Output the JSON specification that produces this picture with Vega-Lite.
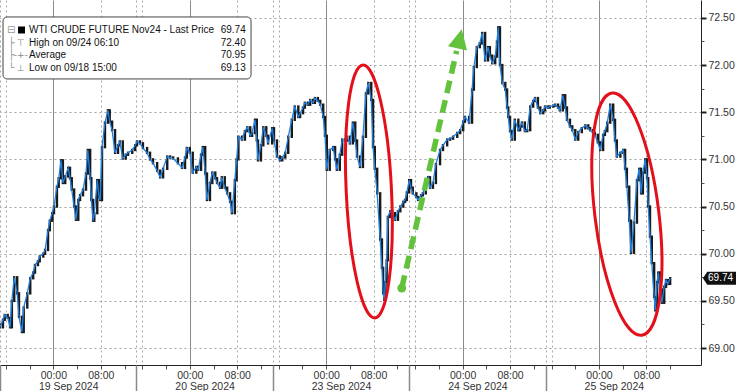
{
  "$schema": "https://vega.github.io/schema/vega-lite/v6.json",
  "width": 701,
  "height": 365,
  "autosize": {"type": "none"},
  "padding": {"left": 0, "top": 0, "right": 35, "bottom": 26},
  "background": "white",
  "config": {"view": {"stroke": null}, "font": "Liberation Sans", "axis": {"labelFont": "Liberation Sans", "labelColor": "#333333", "labelFontSize": 10.5, "title": null}},
  "resolve": {"scale": {"x": "shared", "y": "shared"}, "axis": {"x": "independent", "y": "independent"}},
  "datasets": {
    "px": [
{"t":0,"o":69.25,"c":69.22},{"t":0.5,"o":69.22,"c":69.30},{"t":0.8,"o":69.30,"c":69.35},{"t":1.3,"o":69.35,"c":69.32},{"t":1.7,"o":69.32,"c":69.22},{"t":2.0,"o":69.22,"c":69.50},{"t":2.4,"o":69.50,"c":69.75},{"t":2.9,"o":69.75,"c":69.58},{"t":3.2,"o":69.58,"c":69.33},{"t":3.7,"o":69.33,"c":69.17},{"t":4.0,"o":69.17,"c":69.43},{"t":4.6,"o":69.43,"c":69.58},{"t":5.1,"o":69.58,"c":69.74},{"t":5.6,"o":69.74,"c":69.80},{"t":5.9,"o":69.80,"c":69.88},{"t":6.4,"o":69.88,"c":69.92},{"t":6.7,"o":69.92,"c":69.97},{"t":7.3,"o":69.97,"c":70.00},{"t":7.6,"o":70.00,"c":70.04},{"t":8.1,"o":70.04,"c":70.25},{"t":8.4,"o":70.25,"c":70.35},{"t":8.8,"o":70.35,"c":70.43},{"t":9.1,"o":70.43,"c":70.50},{"t":9.6,"o":70.50,"c":70.71},{"t":9.9,"o":70.71,"c":70.80},{"t":10.3,"o":70.80,"c":70.99},{"t":10.6,"o":70.99,"c":70.75},{"t":11.0,"o":70.75,"c":70.82},{"t":11.5,"o":70.82,"c":70.91},{"t":11.8,"o":70.91,"c":70.80},{"t":12.1,"o":70.80,"c":70.68},{"t":12.5,"o":70.68,"c":70.50},{"t":12.8,"o":70.50,"c":70.36},{"t":13.2,"o":70.36,"c":70.57},{"t":13.5,"o":70.57,"c":70.62},{"t":14.0,"o":70.62,"c":70.68},{"t":14.5,"o":70.68,"c":70.85},{"t":14.8,"o":70.85,"c":71.10},{"t":15.2,"o":71.10,"c":70.80},{"t":15.4,"o":70.80,"c":70.57},{"t":15.7,"o":70.57,"c":70.35},{"t":15.9,"o":70.35,"c":70.43},{"t":16.4,"o":70.43,"c":70.78},{"t":16.7,"o":70.78,"c":70.60},{"t":16.9,"o":70.60,"c":70.57},{"t":17.2,"o":70.57,"c":71.13},{"t":17.7,"o":71.13,"c":71.39},{"t":18.2,"o":71.39,"c":71.52},{"t":18.5,"o":71.52,"c":71.40},{"t":18.9,"o":71.40,"c":71.31},{"t":19.4,"o":71.31,"c":71.07},{"t":19.9,"o":71.07,"c":71.15},{"t":20.2,"o":71.15,"c":71.19},{"t":20.7,"o":71.19,"c":71.01},{"t":21.2,"o":71.01,"c":71.05},{"t":21.6,"o":71.05,"c":71.07},{"t":22.3,"o":71.07,"c":71.10},{"t":22.8,"o":71.10,"c":71.15},{"t":23.1,"o":71.15,"c":71.19},
{"t":23.6,"o":71.19,"c":71.17},{"t":24.1,"o":71.17,"c":71.12},{"t":24.8,"o":71.12,"c":71.07},{"t":25.3,"o":71.07,"c":71.00},{"t":25.8,"o":71.00,"c":70.96},{"t":26.5,"o":70.96,"c":70.88},{"t":27.0,"o":70.88,"c":70.81},{"t":27.5,"o":70.81,"c":70.90},{"t":28.2,"o":70.90,"c":71.03},{"t":28.7,"o":71.03,"c":71.02},{"t":29.2,"o":71.02,"c":71.01},{"t":30.0,"o":71.01,"c":70.96},{"t":30.7,"o":70.96,"c":70.91},{"t":31.2,"o":70.91,"c":71.02},{"t":31.5,"o":71.02,"c":71.12},{"t":32.0,"o":71.12,"c":71.07},{"t":32.5,"o":71.07,"c":70.86},{"t":33.1,"o":70.86,"c":70.92},{"t":33.4,"o":70.92,"c":70.89},{"t":33.9,"o":70.89,"c":71.05},{"t":34.2,"o":71.05,"c":71.13},{"t":34.6,"o":71.13,"c":70.85},{"t":34.9,"o":70.85,"c":70.57},{"t":35.4,"o":70.57,"c":70.75},{"t":35.8,"o":70.75,"c":70.86},{"t":36.3,"o":70.86,"c":70.80},{"t":36.6,"o":70.80,"c":70.75},{"t":37.1,"o":70.75,"c":70.70},{"t":37.4,"o":70.70,"c":70.81},{"t":37.9,"o":70.81,"c":70.70},{"t":38.3,"o":70.70,"c":70.64},{"t":38.8,"o":70.64,"c":70.55},{"t":39.1,"o":70.55,"c":70.43},{"t":39.6,"o":70.43,"c":70.78},{"t":39.9,"o":70.78,"c":71.00},{"t":40.2,"o":71.00,"c":71.24},{"t":40.8,"o":71.24,"c":71.21},{"t":41.3,"o":71.21,"c":71.30},{"t":41.7,"o":71.30,"c":71.34},{"t":42.2,"o":71.34,"c":71.25},{"t":42.5,"o":71.25,"c":71.28},{"t":43.0,"o":71.28,"c":71.42},{"t":43.3,"o":71.42,"c":71.20},{"t":43.5,"o":71.20,"c":70.99},{"t":44.0,"o":70.99,"c":71.15},{"t":44.4,"o":71.15,"c":71.34},{"t":44.9,"o":71.34,"c":71.25},{"t":45.2,"o":71.25,"c":71.17},{"t":45.9,"o":71.17,"c":71.33},{"t":46.2,"o":71.33,"c":71.20},{"t":46.7,"o":71.20,"c":71.03},
{"t":47.2,"o":71.03,"c":70.99},{"t":47.6,"o":70.99,"c":71.02},{"t":48.1,"o":71.02,"c":71.07},{"t":48.6,"o":71.07,"c":71.24},{"t":49.2,"o":71.24,"c":71.42},{"t":49.7,"o":71.42,"c":71.56},{"t":50.3,"o":71.56,"c":71.45},{"t":50.6,"o":71.45,"c":71.49},{"t":51.1,"o":71.49,"c":71.55},{"t":51.4,"o":71.55,"c":71.60},{"t":51.9,"o":71.60,"c":71.58},{"t":52.3,"o":71.58,"c":71.63},{"t":52.8,"o":71.63,"c":71.60},{"t":53.1,"o":71.60,"c":71.65},{"t":53.6,"o":71.65,"c":71.62},{"t":54.0,"o":71.62,"c":71.58},{"t":54.5,"o":71.58,"c":71.45},{"t":54.8,"o":71.45,"c":71.25},{"t":55.1,"o":71.25,"c":70.89},{"t":55.6,"o":70.89,"c":71.10},{"t":56.2,"o":71.10,"c":71.13},{"t":56.5,"o":71.13,"c":71.00},{"t":56.8,"o":71.00,"c":70.89},{"t":57.3,"o":70.89,"c":71.05},{"t":57.7,"o":71.05,"c":71.21},{"t":58.2,"o":71.21,"c":71.20},{"t":58.5,"o":71.20,"c":71.24},{"t":59.0,"o":71.24,"c":71.17},{"t":59.5,"o":71.17,"c":71.39},{"t":59.9,"o":71.39,"c":71.20},{"t":60.2,"o":71.20,"c":71.03},{"t":60.7,"o":71.03,"c":70.92},{"t":61.2,"o":70.92,"c":71.24},{"t":61.7,"o":71.24,"c":71.70},{"t":62.1,"o":71.70,"c":71.81},{"t":62.6,"o":71.81,"c":71.63},{"t":62.9,"o":71.63,"c":71.13},{"t":63.2,"o":71.13,"c":70.90},{"t":63.6,"o":70.90,"c":70.64},{"t":64.1,"o":70.64,"c":70.15},{"t":64.4,"o":70.15,"c":69.85},{"t":64.6,"o":69.85,"c":69.58},{"t":64.8,"o":69.58,"c":69.51},{"t":65.0,"o":69.51,"c":69.70},{"t":65.2,"o":69.70,"c":69.93},{"t":65.4,"o":69.93,"c":70.39},{"t":65.8,"o":70.39,"c":70.45},{"t":66.1,"o":70.45,"c":70.43},{"t":66.6,"o":70.43,"c":70.36},{"t":67.1,"o":70.36,"c":70.45},{"t":67.5,"o":70.45,"c":70.50},{"t":68.0,"o":70.50,"c":70.55},{"t":68.3,"o":70.55,"c":70.57},{"t":68.6,"o":70.57,"c":70.65},{"t":69.0,"o":70.65,"c":70.78},
{"t":69.3,"o":70.78,"c":70.70},{"t":69.6,"o":70.70,"c":70.64},{"t":70.2,"o":70.64,"c":70.60},{"t":70.5,"o":70.60,"c":70.57},{"t":71.0,"o":70.57,"c":70.62},{"t":71.3,"o":70.62,"c":70.64},{"t":71.8,"o":70.64,"c":70.75},{"t":72.2,"o":70.75,"c":70.81},{"t":72.5,"o":70.81,"c":70.70},{"t":73.0,"o":70.70,"c":70.75},{"t":73.5,"o":70.75,"c":70.95},{"t":74.2,"o":70.95,"c":71.10},{"t":74.7,"o":71.10,"c":71.15},{"t":75.4,"o":71.15,"c":71.21},{"t":75.9,"o":71.21,"c":71.22},{"t":76.4,"o":71.22,"c":71.24},{"t":77.1,"o":71.24,"c":71.28},{"t":77.6,"o":71.28,"c":71.31},{"t":78.1,"o":71.31,"c":71.40},{"t":78.4,"o":71.40,"c":71.45},{"t":79.1,"o":71.45,"c":71.39},{"t":79.6,"o":71.39,"c":71.74},{"t":79.9,"o":71.74,"c":71.98},{"t":80.4,"o":71.98,"c":72.19},{"t":80.9,"o":72.19,"c":72.23},{"t":81.3,"o":72.23,"c":72.34},{"t":81.8,"o":72.34,"c":72.05},{"t":82.3,"o":72.05,"c":72.19},{"t":82.6,"o":72.19,"c":72.10},{"t":83.0,"o":72.10,"c":72.02},{"t":83.5,"o":72.02,"c":72.09},{"t":83.8,"o":72.09,"c":72.25},{"t":84.0,"o":72.25,"c":72.40},{"t":84.3,"o":72.40,"c":72.00},{"t":84.7,"o":72.00,"c":71.81},{"t":85.2,"o":71.81,"c":71.74},{"t":85.5,"o":71.74,"c":71.55},{"t":85.7,"o":71.55,"c":71.45},{"t":86.0,"o":71.45,"c":71.30},{"t":86.3,"o":71.30,"c":71.21},{"t":86.8,"o":71.21,"c":71.42},{"t":87.4,"o":71.42,"c":71.31},{"t":87.7,"o":71.31,"c":71.35},{"t":88.0,"o":71.35,"c":71.39},{"t":88.5,"o":71.39,"c":71.30},{"t":88.9,"o":71.30,"c":71.31},{"t":89.4,"o":71.31,"c":71.56},{"t":89.9,"o":71.56,"c":71.62},{"t":90.2,"o":71.62,"c":71.65},{"t":90.7,"o":71.65,"c":71.55},{"t":91.1,"o":71.55,"c":71.49},{"t":91.6,"o":71.49,"c":71.52},{"t":91.9,"o":71.52,"c":71.56},
{"t":92.4,"o":71.56,"c":71.55},{"t":92.7,"o":71.55,"c":71.56},{"t":93.3,"o":71.56,"c":71.57},{"t":93.6,"o":71.57,"c":71.58},{"t":94.1,"o":71.58,"c":71.55},{"t":94.4,"o":71.55,"c":71.52},{"t":94.9,"o":71.52,"c":71.68},{"t":95.3,"o":71.68,"c":71.55},{"t":95.6,"o":71.55,"c":71.42},{"t":96.1,"o":71.42,"c":71.35},{"t":96.5,"o":71.35,"c":71.31},{"t":97.0,"o":71.31,"c":71.21},{"t":97.5,"o":71.21,"c":71.29},{"t":98.1,"o":71.29,"c":71.33},{"t":98.7,"o":71.33,"c":71.36},{"t":99.2,"o":71.36,"c":71.33},{"t":99.5,"o":71.33,"c":71.31},{"t":100.0,"o":71.31,"c":71.28},{"t":100.3,"o":71.28,"c":71.26},{"t":100.8,"o":71.26,"c":71.18},{"t":101.2,"o":71.18,"c":71.10},{"t":101.7,"o":71.10,"c":71.26},{"t":102.0,"o":71.26,"c":71.30},{"t":102.4,"o":71.30,"c":71.39},{"t":102.9,"o":71.39,"c":71.58},{"t":103.4,"o":71.58,"c":71.42},{"t":103.7,"o":71.42,"c":71.20},{"t":104.0,"o":71.20,"c":71.03},{"t":104.6,"o":71.03,"c":71.07},{"t":105.1,"o":71.07,"c":71.10},{"t":105.4,"o":71.10,"c":70.90},{"t":105.7,"o":70.90,"c":70.71},{"t":106.1,"o":70.71,"c":70.35},{"t":106.4,"o":70.35,"c":70.01},{"t":106.9,"o":70.01,"c":70.33},{"t":107.4,"o":70.33,"c":70.78},{"t":107.8,"o":70.78,"c":70.90},{"t":108.1,"o":70.90,"c":70.64},{"t":108.4,"o":70.64,"c":70.86},{"t":108.8,"o":70.86,"c":71.00},{"t":109.1,"o":71.00,"c":70.80},{"t":109.3,"o":70.80,"c":70.50},{"t":109.6,"o":70.50,"c":70.18},{"t":109.9,"o":70.18,"c":69.90},{"t":110.3,"o":69.90,"c":69.54},{"t":110.5,"o":69.54,"c":69.40},{"t":110.8,"o":69.40,"c":69.70},{"t":111.0,"o":69.70,"c":69.80},{"t":111.3,"o":69.80,"c":69.62},{"t":111.6,"o":69.62,"c":69.48},{"t":112.0,"o":69.48,"c":69.65},{"t":112.3,"o":69.65,"c":69.72},{"t":112.6,"o":69.72,"c":69.68},{"t":113.0,"o":69.68,"c":69.74}
    ]
  },
  "layer": [
    {
      "data": {"name": "px"},
      "mark": {"type": "rule", "color": "#1a1a1a", "strokeWidth": 2.4, "strokeCap": "square"},
      "encoding": {
        "x": {"field": "t", "type": "quantitative", "scale": {"domain": [0, 118.2], "nice": false, "zero": false},
          "axis": {"orient": "bottom", "title": null,
            "values": [1,5,9,13,17,21,24,28,32,36,40,44,47,51,55,59,63,67,70,74,78,82,86,90,93,97,101,105,109,113],
            "labelExpr": "(datum.value - 9) % 23 == 0 ? '00:00' : ((datum.value - 17) % 23 == 0 ? '08:00' : '')",
            "labelOverlap": false, "labelFlush": false, "labelPadding": 1, "labelFontSize": 10.5, "labelColor": "#333333",
            "tickSize": 4, "tickColor": "#555555", "domainColor": "#222222", "domainWidth": 1,
            "grid": true,
            "gridColor": {"condition": {"test": "(datum.value - 9) % 23 == 0", "value": "#8a8a8a"}, "value": "#a8a8a8"},
            "gridDash": {"condition": {"test": "(datum.value - 9) % 23 == 0", "value": []}, "value": [2, 3]},
            "gridOpacity": {"condition": {"test": "(datum.value - 9) % 23 == 0 || (datum.value - 17) % 23 == 0 || (datum.value - 1) % 23 == 0", "value": 1}, "value": 0}
          }},
        "y": {"field": "o", "type": "quantitative", "scale": {"domain": [68.82, 72.69], "nice": false, "zero": false},
          "axis": {"orient": "right", "title": null, "values": [69, 69.5, 70, 70.5, 71, 71.5, 72, 72.5], "format": ".2f",
            "labelPadding": 2, "labelFontSize": 10.5, "labelColor": "#333333", "tickSize": 5, "tickWidth": 2, "tickColor": "#222222",
            "domainColor": "#222222", "grid": true, "gridColor": "#a0a0a0", "gridDash": [2, 3]}},
        "y2": {"field": "c"}
      }
    },
    {
      "data": {"name": "px"},
      "mark": {"type": "line", "color": "#1f7fe0", "strokeWidth": 1.3},
      "encoding": {
        "x": {"field": "t", "type": "quantitative", "scale": {"domain": [0, 118.2], "nice": false, "zero": false},
          "axis": {"orient": "bottom", "title": null, "values": [0, 23, 46, 69, 92], "labels": false, "domain": false,
            "ticks": true, "tickSize": 26, "tickColor": "#8a8a8a", "tickWidth": 1.5,
            "grid": true, "gridColor": "#a8a8a8", "gridDash": [2, 3]}},
        "y": {"field": "c", "type": "quantitative", "scale": {"domain": [68.82, 72.69], "nice": false, "zero": false},
          "axis": {"orient": "right", "title": null, "values": [69.25, 69.75, 70.25, 70.75, 71.25, 71.75, 72.25],
            "labels": false, "domain": false, "grid": false, "tickSize": 3, "tickColor": "#555555"}}
      }
    },
    {
      "data": {"values": [{}]},
      "mark": {"type": "point", "shape": "M0,-1A0.179,1 0 1,1 0,1A0.179,1 0 1,1 0,-1Z", "size": 64110, "angle": -2.7,
        "filled": false, "color": "#e3101b", "strokeWidth": 3, "opacity": 1},
      "encoding": {
        "x": {"datum": 62.2, "type": "quantitative", "scale": {"domain": [0, 118.2], "nice": false, "zero": false},
          "axis": {"orient": "bottom", "title": null, "values": [11.5, 34.5, 57.5, 80.5, 103.5],
            "labelExpr": "['19 Sep 2024','20 Sep 2024','23 Sep 2024','24 Sep 2024','25 Sep 2024'][floor(datum.value / 23)]",
            "labelOverlap": false, "labelFlush": false, "ticks": false, "domain": false, "grid": false,
            "labelPadding": 16, "labelFontSize": 10.5, "labelColor": "#333333"}},
        "y": {"datum": 70.66, "type": "quantitative", "scale": {"domain": [68.82, 72.69], "nice": false, "zero": false}, "axis": null}
      }
    },
    {
      "data": {"values": [{}]},
      "mark": {"type": "point", "shape": "M0,-1A0.262,1 0 1,1 0,1A0.262,1 0 1,1 0,-1Z", "size": 59536, "angle": -7,
        "filled": false, "color": "#e3101b", "strokeWidth": 3, "opacity": 1},
      "encoding": {
        "x": {"datum": 105.7, "type": "quantitative", "axis": null},
        "y": {"datum": 70.42, "type": "quantitative", "axis": null}
      }
    },
    {
      "data": {"values": [{}]},
      "mark": {"type": "rule", "color": "#63c23c", "strokeWidth": 5.5, "strokeDash": [13, 7]},
      "encoding": {
        "x": {"datum": 67.74, "type": "quantitative", "axis": null},
        "y": {"datum": 69.636, "type": "quantitative", "axis": null},
        "x2": {"datum": 77.0},
        "y2": {"datum": 72.15}
      }
    },
    {
      "data": {"values": [{}]},
      "mark": {"type": "point", "shape": "circle", "size": 80, "filled": true, "color": "#63c23c", "opacity": 1},
      "encoding": {
        "x": {"datum": 67.74, "type": "quantitative", "axis": null},
        "y": {"datum": 69.636, "type": "quantitative", "axis": null}
      }
    },
    {
      "data": {"values": [{}]},
      "mark": {"type": "point", "shape": "M0,-1L1,1L-1,1Z", "size": 380, "angle": 12.5, "filled": true, "color": "#63c23c", "opacity": 1},
      "encoding": {
        "x": {"datum": 77.5, "type": "quantitative", "axis": null},
        "y": {"datum": 72.279, "type": "quantitative", "axis": null}
      }
    },
    {
      "data": {"values": [{}]},
      "mark": {"type": "rect", "fill": "white", "stroke": "#444444", "strokeWidth": 1, "cornerRadius": 4},
      "encoding": {
        "x": {"datum": 0.51, "type": "quantitative", "axis": null},
        "x2": {"datum": 42.33},
        "y": {"datum": 72.51, "type": "quantitative", "axis": null},
        "y2": {"datum": 71.853}
      }
    },
    {
      "data": {"values": [{}]},
      "mark": {"type": "text", "align": "center", "baseline": "middle", "font": "DejaVu Sans", "fontSize": 10, "lineHeight": 12.67, "color": "#999999",
        "text": ["⊟", "├", "├", "└"]},
      "encoding": {
        "x": {"datum": 1.9, "type": "quantitative", "axis": null},
        "y": {"datum": 72.372, "type": "quantitative", "axis": null}
      }
    },
    {
      "data": {"values": [{}]},
      "mark": {"type": "text", "align": "center", "baseline": "middle", "font": "DejaVu Sans", "fontSize": 9, "lineHeight": 12.67, "color": "#888888",
        "text": ["", "⊤", "-+-", "⊥"]},
      "encoding": {
        "x": {"datum": 3.5, "type": "quantitative", "axis": null},
        "y": {"datum": 72.372, "type": "quantitative", "axis": null}
      }
    },
    {
      "data": {"values": [{}]},
      "mark": {"type": "point", "shape": "square", "size": 49, "filled": true, "color": "#000000", "opacity": 1},
      "encoding": {
        "x": {"datum": 3.63, "type": "quantitative", "axis": null},
        "y": {"datum": 72.372, "type": "quantitative", "axis": null}
      }
    },
    {
      "data": {"values": [{}]},
      "mark": {"type": "text", "align": "left", "baseline": "middle", "font": "Liberation Sans", "fontSize": 10, "lineHeight": 12.67, "color": "#111111",
        "text": ["WTI CRUDE FUTURE Nov24 - Last Price", "High on 09/24 06:10", "Average", "Low on 09/18 15:00"]},
      "encoding": {
        "x": {"datum": 4.9, "type": "quantitative", "axis": null},
        "y": {"datum": 72.372, "type": "quantitative", "axis": null}
      }
    },
    {
      "data": {"values": [{}]},
      "mark": {"type": "text", "align": "right", "baseline": "middle", "font": "Liberation Sans", "fontSize": 10, "lineHeight": 12.67, "color": "#111111",
        "text": ["69.74", "72.40", "70.95", "69.13"]},
      "encoding": {
        "x": {"datum": 41.43, "type": "quantitative", "axis": null},
        "y": {"datum": 72.372, "type": "quantitative", "axis": null}
      }
    },
    {
      "data": {"values": [{}]},
      "mark": {"type": "point", "shape": "M-1,0L-0.75,-0.38L1,-0.38L1,0.38L-0.75,0.38Z", "size": 1156, "filled": true, "color": "#111111", "opacity": 1},
      "encoding": {
        "x": {"datum": 121.4, "type": "quantitative", "axis": null},
        "y": {"datum": 69.74, "type": "quantitative", "axis": null}
      }
    },
    {
      "data": {"values": [{}]},
      "mark": {"type": "text", "align": "center", "baseline": "middle", "font": "Liberation Sans", "fontSize": 10, "color": "#ffffff", "text": "69.74"},
      "encoding": {
        "x": {"datum": 121.5, "type": "quantitative", "axis": null},
        "y": {"datum": 69.74, "type": "quantitative", "axis": null}
      }
    }
  ]
}
